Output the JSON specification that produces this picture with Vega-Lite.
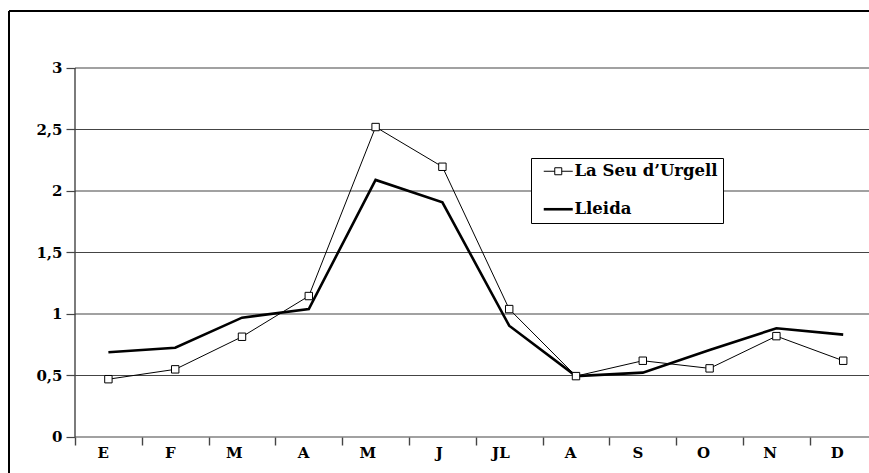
{
  "$schema": "https://vega.github.io/schema/vega-lite/v6.json",
  "width": 860,
  "height": 462,
  "autosize": {"type": "none"},
  "padding": {"left": 9, "top": 11, "right": 0, "bottom": 0},
  "background": "white",
  "title": {
    "text": "y 90,50 m3/s en Lleida.",
    "font": "DejaVu Serif",
    "fontSize": 18,
    "fontWeight": "normal",
    "baseline": "alphabetic",
    "offset": 6,
    "frame": "group",
    "anchor": "start",
    "dx": 304,
    "color": "black"
  },
  "config": {
    "view": {"stroke": null},
    "font": "DejaVu Serif"
  },
  "datasets": {
    "flows": [
      {"n": 1, "mes": "E", "serie": "La Seu d’Urgell", "v": 0.47},
      {"n": 2, "mes": "F", "serie": "La Seu d’Urgell", "v": 0.55},
      {"n": 3, "mes": "M", "serie": "La Seu d’Urgell", "v": 0.815},
      {"n": 4, "mes": "A", "serie": "La Seu d’Urgell", "v": 1.146},
      {"n": 5, "mes": "M", "serie": "La Seu d’Urgell", "v": 2.52},
      {"n": 6, "mes": "J", "serie": "La Seu d’Urgell", "v": 2.197},
      {"n": 7, "mes": "JL", "serie": "La Seu d’Urgell", "v": 1.04},
      {"n": 8, "mes": "A", "serie": "La Seu d’Urgell", "v": 0.495},
      {"n": 9, "mes": "S", "serie": "La Seu d’Urgell", "v": 0.62},
      {"n": 10, "mes": "O", "serie": "La Seu d’Urgell", "v": 0.558},
      {"n": 11, "mes": "N", "serie": "La Seu d’Urgell", "v": 0.82},
      {"n": 12, "mes": "D", "serie": "La Seu d’Urgell", "v": 0.62},
      {"n": 1, "mes": "E", "serie": "Lleida", "v": 0.689},
      {"n": 2, "mes": "F", "serie": "Lleida", "v": 0.726},
      {"n": 3, "mes": "M", "serie": "Lleida", "v": 0.97},
      {"n": 4, "mes": "A", "serie": "Lleida", "v": 1.04},
      {"n": 5, "mes": "M", "serie": "Lleida", "v": 2.09},
      {"n": 6, "mes": "J", "serie": "Lleida", "v": 1.908},
      {"n": 7, "mes": "JL", "serie": "Lleida", "v": 0.905},
      {"n": 8, "mes": "A", "serie": "Lleida", "v": 0.495},
      {"n": 9, "mes": "S", "serie": "Lleida", "v": 0.523},
      {"n": 10, "mes": "O", "serie": "Lleida", "v": 0.707},
      {"n": 11, "mes": "N", "serie": "Lleida", "v": 0.884},
      {"n": 12, "mes": "D", "serie": "Lleida", "v": 0.832}
    ],
    "grid": [
      {"g": 0}, {"g": 0.5}, {"g": 1}, {"g": 1.5}, {"g": 2}, {"g": 2.5}, {"g": 3}
    ]
  },
  "layer": [
    {
      "data": {"name": "grid"},
      "mark": {"type": "rule", "color": "#444", "strokeWidth": 1.2},
      "encoding": {
        "y": {"field": "g", "type": "quantitative"},
        "x": {"datum": 1, "type": "ordinal", "bandPosition": 0},
        "x2": {"datum": 12, "bandPosition": 1}
      }
    },
    {
      "data": {"values": [{}]},
      "mark": {"type": "rule", "color": "black", "strokeWidth": 2},
      "encoding": {
        "y": {"datum": 3.4634, "type": "quantitative"}
      }
    },
    {
      "data": {"values": [{}]},
      "mark": {"type": "rule", "color": "black", "strokeWidth": 2},
      "encoding": {
        "x": {"datum": 1, "type": "ordinal", "bandPosition": -0.988}
      }
    },
    {
      "data": {"values": [{}]},
      "mark": {"type": "rule", "color": "#444", "strokeWidth": 1.4},
      "encoding": {
        "x": {"datum": 1, "type": "ordinal", "bandPosition": 0},
        "y": {"datum": 0, "type": "quantitative"},
        "y2": {"datum": 3}
      }
    },
    {
      "data": {"name": "flows"},
      "mark": {"type": "line", "color": "black"},
      "encoding": {
        "x": {
          "field": "n",
          "type": "ordinal",
          "scale": {"range": [66, 867.6], "paddingInner": 0, "paddingOuter": 0},
          "axis": {
            "title": null,
            "orient": "bottom",
            "offset": -36,
            "domain": false,
            "grid": false,
            "tickBand": "extent",
            "tickSize": 8,
            "tickColor": "#444",
            "tickWidth": 1.4,
            "labelAngle": 0,
            "labelPadding": 7,
            "labelFont": "DejaVu Serif",
            "labelFontSize": 15,
            "labelFontWeight": "bold",
            "labelColor": "black",
            "labelExpr": "['E','F','M','A','M','J','JL','A','S','O','N','D'][datum.value-1]"
          }
        },
        "y": {
          "field": "v",
          "type": "quantitative",
          "scale": {"domain": [-0.2927, 3.4634], "nice": false, "zero": false},
          "axis": {
            "title": null,
            "orient": "left",
            "offset": -66,
            "values": [0, 0.5, 1, 1.5, 2, 2.5, 3],
            "domain": false,
            "grid": false,
            "tickSize": 9,
            "tickColor": "#444",
            "tickWidth": 1.2,
            "labelPadding": 4,
            "labelFont": "DejaVu Serif",
            "labelFontSize": 15,
            "labelFontWeight": "bold",
            "labelColor": "black",
            "labelExpr": "replace(toString(datum.value), '.', ',')"
          }
        },
        "detail": {"field": "serie"},
        "strokeWidth": {
          "field": "serie",
          "type": "nominal",
          "scale": {"domain": ["La Seu d’Urgell", "Lleida"], "range": [1, 2.6]},
          "legend": {
            "title": null,
            "orient": "none",
            "legendX": 522,
            "legendY": 147,
            "padding": 5,
            "fillColor": "white",
            "strokeColor": "black",
            "symbolSize": 100,
            "symbolOffset": 14,
            "labelOffset": 8,
            "rowPadding": 21,
            "symbolType": {"expr": "datum.value === 'Lleida' ? 'M-2.9,0H2.9' : 'M-2.9,0H-0.7M0.7,0H2.9M-0.7,-0.7H0.7V0.7H-0.7Z'"},
            "symbolFillColor": "white",
            "symbolStrokeColor": "black",
            "labelFont": "DejaVu Serif",
            "labelFontSize": 16.5,
            "labelFontWeight": "bold",
            "labelColor": "black",
            "encode": {
              "legend": {"strokeWidth": {"value": 2}}
            }
          }
        }
      }
    },
    {
      "data": {"name": "flows"},
      "transform": [{"filter": "datum.serie !== 'Lleida'"}],
      "mark": {"type": "point", "shape": "square", "size": 55, "filled": true, "fill": "white", "stroke": "black", "strokeWidth": 1, "opacity": 1},
      "encoding": {
        "x": {"field": "n", "type": "ordinal"},
        "y": {"field": "v", "type": "quantitative"}
      }
    }
  ]
}
